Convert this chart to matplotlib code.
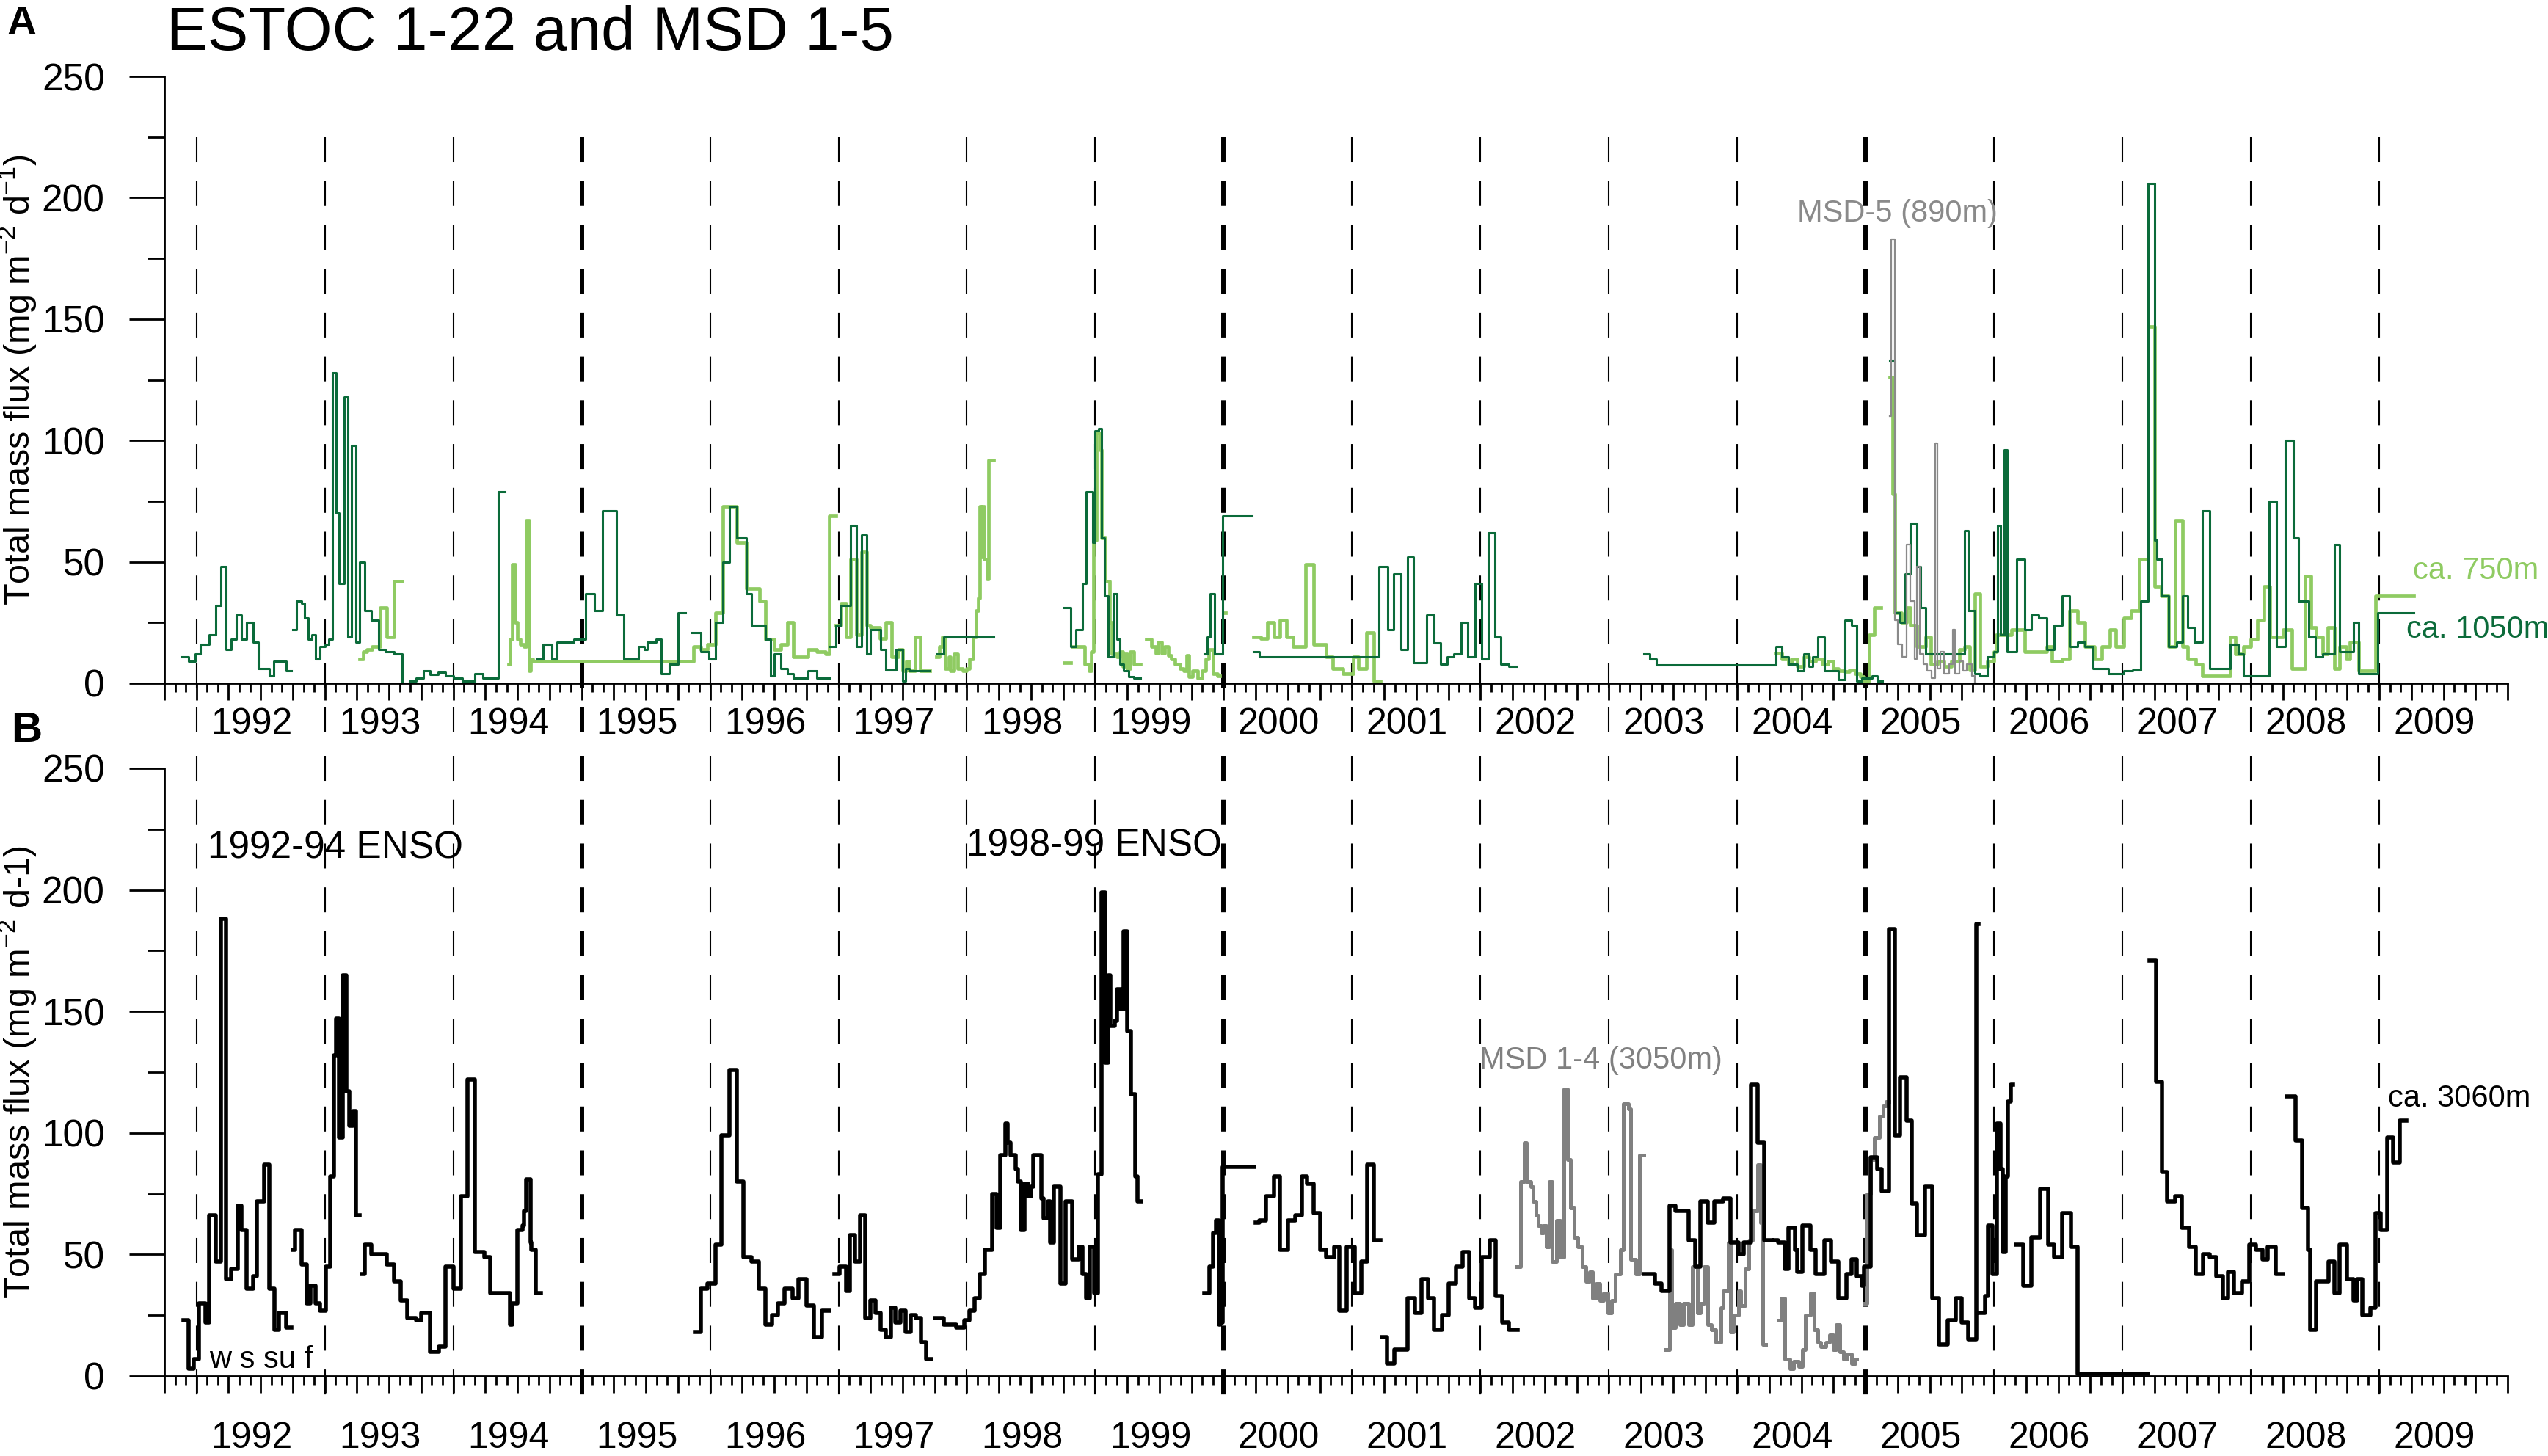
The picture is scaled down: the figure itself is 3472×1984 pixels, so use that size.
import numpy as np
import matplotlib
matplotlib.use("Agg")
import matplotlib.pyplot as plt
from matplotlib.ticker import FixedLocator

plt.rcParams['font.family'] = ['Liberation Sans', 'DejaVu Sans']
plt.rcParams['mathtext.fontset'] = 'custom'
plt.rcParams['mathtext.rm'] = 'Liberation Sans'
plt.rcParams['mathtext.it'] = 'Liberation Sans:italic'
plt.rcParams['mathtext.bf'] = 'Liberation Sans:bold'
plt.rcParams['lines.scale_dashes'] = False

# ---------------- data (decimal year edges, flux values) ----------------
YEARS = list(range(1992, 2010))
THICK_YEARS = [1995, 2000, 2005]

# Panel A: ca. 1050 m (dark green)
A_1050_S1_X = [1991.88, 1991.94, 1991.99, 1992.03, 1992.10, 1992.15, 1992.19, 1992.23, 1992.27, 1992.31, 1992.35, 1992.39, 1992.44, 1992.48, 1992.53, 1992.57, 1992.60, 1992.70, 1992.74]
A_1050_S1_Y = [11, 9, 12, 16, 20, 32, 48, 14, 18, 28, 18, 25, 17, 6, 6, 3, 9, 5]
A_1050_S2_X = [1992.75, 1992.78, 1992.82, 1992.84, 1992.87, 1992.90, 1992.93, 1992.96, 1993.00, 1993.03, 1993.06, 1993.09, 1993.11, 1993.15, 1993.18, 1993.21, 1993.24, 1993.27, 1993.31, 1993.36, 1993.42, 1993.47, 1993.54, 1993.60, 1993.66, 1993.71, 1993.77, 1993.82, 1993.88, 1993.94, 1994.00, 1994.07, 1994.17, 1994.23, 1994.35, 1994.40]
A_1050_S2_Y = [22, 34, 33, 27, 18, 20, 10, 15, 16, 18, 128, 70, 41, 118, 19, 98, 17, 50, 30, 26, 14, 13, 12, 0, 1, 2, 5, 3.5, 4.5, 3, 2, 1, 4, 2, 79]
A_1050_S3_X = [1994.65, 1994.70, 1994.77, 1994.81, 1994.94, 1995.03, 1995.10, 1995.16, 1995.27, 1995.33, 1995.44, 1995.49, 1995.51, 1995.58, 1995.62, 1995.68, 1995.75, 1995.81]
A_1050_S3_Y = [10, 16, 10, 17, 18, 37, 30, 71, 28, 10, 15, 14, 17, 18, 4, 8, 29]
A_1050_S4_X = [1995.86, 1995.93, 1995.99, 1996.04, 1996.10, 1996.15, 1996.21, 1996.28, 1996.32, 1996.43, 1996.47, 1996.50, 1996.55, 1996.60, 1996.65, 1996.76, 1996.83, 1996.93]
A_1050_S4_Y = [21, 13, 10, 25, 50, 73, 60, 37, 24, 18, 3, 12, 6, 4, 2, 5, 2]
A_1050_S5_X = [1996.93, 1996.98, 1997.02, 1997.095, 1997.137, 1997.177, 1997.219, 1997.25, 1997.33, 1997.37, 1997.45, 1997.50, 1997.52, 1997.55, 1997.71]
A_1050_S5_Y = [15, 24, 32, 65, 15, 61, 12, 22, 14, 5.5, 14, 1, 6, 5]
A_1050_S6_X = [1997.77, 1997.82, 1998.21]
A_1050_S6_Y = [12, 19]
A_1050_S7_X = [1998.76, 1998.81, 1998.85, 1998.90, 1998.93, 1998.98, 1999.00, 1999.025, 1999.05, 1999.07, 1999.10, 1999.14, 1999.17, 1999.19, 1999.22, 1999.26, 1999.30, 1999.35]
A_1050_S7_Y = [31, 15, 22, 41, 79, 58, 104, 105, 60, 36, 11, 37, 18, 8, 5, 2.6, 2]
A_1050_S8_X = [1999.85, 1999.87, 1999.895, 1999.93, 1999.965, 1999.99, 2000.22]
A_1050_S8_Y = [12, 19, 37, 12, 12, 69]
A_1050_S9_X = [2000.23, 2000.28, 2001.21, 2001.28, 2001.325, 2001.38, 2001.43, 2001.48, 2001.58, 2001.64, 2001.69, 2001.74, 2001.79, 2001.85, 2001.90, 2001.96, 2002.01, 2002.06, 2002.11, 2002.16, 2002.22, 2002.28]
A_1050_S9_Y = [13, 11, 48, 22, 45, 14, 52, 8.5, 28, 16.5, 8, 11, 12, 25, 11, 41, 10, 62, 19, 8, 7]
A_1050_S10_X = [2003.27, 2003.32, 2003.37, 2004.30, 2004.35, 2004.40, 2004.47, 2004.52, 2004.56, 2004.59, 2004.63, 2004.68, 2004.79, 2004.84, 2004.89, 2004.93, 2004.97, 2005.05, 2005.09, 2005.13]
A_1050_S10_Y = [12, 10, 7.6, 15, 11, 8, 5, 12, 7, 11, 19, 5, 1.6, 26, 24, 1, 2, 3, 1]
A_1050_S11_X = [2005.19, 2005.23, 2005.27, 2005.31, 2005.35, 2005.40, 2005.43, 2005.47, 2005.77, 2005.80, 2005.85, 2005.89, 2005.95, 2006.00, 2006.03, 2006.05, 2006.08, 2006.10, 2006.175, 2006.24, 2006.29, 2006.35, 2006.41, 2006.47, 2006.53, 2006.59, 2006.65, 2006.71, 2006.77, 2006.89, 2007.01, 2007.08, 2007.14, 2007.20, 2007.25, 2007.27, 2007.31, 2007.36, 2007.42, 2007.47, 2007.51, 2007.56, 2007.62, 2007.68, 2007.84, 2007.90, 2007.94, 2008.14, 2008.20, 2008.27, 2008.33, 2008.37, 2008.45, 2008.50, 2008.56, 2008.65, 2008.69, 2008.80, 2008.84, 2008.99, 2009.27]
A_1050_S11_Y = [133, 29, 25, 45, 66, 48, 31, 12, 63, 30, 4, 3, 11, 13, 65, 20, 96, 13, 51, 22, 28, 27, 14, 24, 36, 15, 17, 15, 6, 4, 5, 5.5, 34, 206, 59, 51, 36, 15, 17, 36, 23, 17, 71, 6, 16, 12, 3, 75, 15, 100, 60, 34, 19, 11, 12, 57, 13, 25, 4, 29]

# Panel A: ca. 750 m (light green)
A_750_S1_X = [1993.27, 1993.30, 1993.33, 1993.37, 1993.43, 1993.48, 1993.54, 1993.60]
A_750_S1_Y = [10, 13, 14, 15, 31, 19, 42]
A_750_S2_X = [1994.43, 1994.44, 1994.46, 1994.48, 1994.50, 1994.52, 1994.55, 1994.57, 1994.59, 1994.60, 1994.62, 1995.87, 1995.93, 1995.98, 1996.04, 1996.10, 1996.21, 1996.28, 1996.385, 1996.43, 1996.50, 1996.55, 1996.60, 1996.65, 1996.76, 1996.83, 1996.90, 1996.93, 1996.98]
A_750_S2_Y = [8, 18, 49, 25, 18, 16, 15, 67, 5, 10, 9, 15, 14, 16, 29, 73, 58, 39, 34, 18, 14, 16, 25, 11, 14, 13, 12, 69]
A_750_S3_X = [1996.98, 1997.02, 1997.06, 1997.095, 1997.137, 1997.177, 1997.219, 1997.25, 1997.32, 1997.37, 1997.415, 1997.465, 1997.50, 1997.53, 1997.55, 1997.595, 1997.635, 1997.71]
A_750_S3_Y = [24, 33, 19, 51, 20, 54, 24, 23, 18.5, 25, 11, 14, 5, 9, 5, 19, 5]
A_750_S4_X = [1997.76, 1997.785, 1997.81, 1997.83, 1997.86, 1997.87, 1997.90, 1997.93, 1997.97, 1998.00, 1998.02, 1998.05, 1998.07, 1998.09, 1998.10, 1998.11, 1998.115, 1998.135, 1998.16, 1998.17, 1998.21]
A_750_S4_Y = [11, 15, 19, 6, 11, 5, 12, 6, 5, 6, 10, 19, 30, 35, 73, 52, 73, 51, 43, 92]
A_750_S5_X = [1998.76, 1998.81]
A_750_S5_Y = [8.5]
A_750_S6_X = [1998.82, 1998.92, 1998.95, 1998.97, 1998.985, 1999.01, 1999.035, 1999.05, 1999.08, 1999.11, 1999.13, 1999.17, 1999.19, 1999.215, 1999.23, 1999.25, 1999.27, 1999.30, 1999.35]
A_750_S6_Y = [15, 8, 5, 13, 59, 103, 96, 60, 42, 25, 12, 11, 13, 7, 12, 6, 13, 8]
A_750_S7_X = [1999.40, 1999.44, 1999.47, 1999.49, 1999.52, 1999.54, 1999.57, 1999.59, 1999.62, 1999.66, 1999.69, 1999.71, 1999.73, 1999.76, 1999.80, 1999.83, 1999.86, 1999.885, 1999.92, 1999.95, 1999.97]
A_750_S7_Y = [18, 15, 12.5, 17, 12.5, 15, 11.6, 10, 8, 6, 5, 11.6, 2.6, 5, 2, 5, 10, 14, 4, 3]
A_750_S8_X = [1999.995, 2000.015]
A_750_S8_Y = [29]
A_750_S9_X = [2000.23, 2000.29, 2000.34, 2000.39, 2000.44, 2000.49, 2000.54, 2000.64, 2000.70, 2000.80, 2000.85, 2000.93, 2001.01, 2001.05, 2001.11, 2001.17, 2001.22]
A_750_S9_Y = [19, 18.5, 25, 19, 26, 19, 15, 49, 16, 11, 6, 4, 11, 6, 21, 1]
A_750_S10_X = [2004.30, 2004.35, 2004.40, 2004.43, 2004.47, 2004.52, 2004.56, 2004.61, 2004.66, 2004.71, 2004.75, 2004.79, 2004.84, 2004.875, 2004.92, 2004.96, 2004.99, 2005.03, 2005.07, 2005.12]
A_750_S10_Y = [12.5, 10, 8, 10, 7, 11, 9, 10, 8, 9, 6, 5, 4.7, 5.5, 4, 2.6, 1, 20, 31]
A_750_S11_X = [2005.19, 2005.21, 2005.23, 2005.28, 2005.32, 2005.35, 2005.40, 2005.47, 2005.51, 2005.56, 2005.61, 2005.67, 2005.73, 2005.77, 2005.81, 2005.85, 2005.89, 2005.95, 2006.00, 2006.015, 2006.135, 2006.24, 2006.41, 2006.45, 2006.53, 2006.59, 2006.65, 2006.71, 2006.78, 2006.84, 2006.90, 2006.95, 2007.01, 2007.07, 2007.13, 2007.20, 2007.25, 2007.30, 2007.36, 2007.41, 2007.47, 2007.51, 2007.57, 2007.62, 2007.84, 2007.88, 2007.94, 2008.00, 2008.05, 2008.10, 2008.15, 2008.25, 2008.32, 2008.42, 2008.47, 2008.51, 2008.56, 2008.60, 2008.65, 2008.69, 2008.74, 2008.77, 2008.84, 2008.97, 2009.27]
A_750_S11_Y = [126, 78, 29, 25, 31, 24, 15, 19, 8, 9, 7, 9, 14, 15, 5.5, 37, 7, 9, 13, 20, 22, 13, 15, 9, 10, 30, 25, 15, 10, 15, 22, 15, 27, 30, 51, 147, 40, 36, 15, 67, 15, 10, 8, 3, 19, 12, 15, 18, 26, 40, 19, 22, 6, 44, 23, 19, 12, 23, 6, 15, 10, 17, 5, 36]

# Panel A: MSD-5 (890 m, grey)
A_MSD5_X = [2005.19, 2005.20, 2005.226, 2005.25, 2005.285, 2005.32, 2005.35, 2005.38, 2005.40, 2005.42, 2005.45, 2005.48, 2005.515, 2005.54, 2005.557, 2005.58, 2005.61, 2005.65, 2005.68, 2005.695, 2005.73, 2005.76, 2005.79, 2005.83, 2005.85, 2005.86]
A_MSD5_Y = [110, 183, 26, 16, 11, 57, 34, 10, 48, 12, 8, 5, 2, 99, 6, 13, 4, 8, 22, 4, 9, 5, 8, 3, 0]

# Panel B: ca. 3060 m (black)
B_3060_S1_X = [1991.90, 1991.94, 1991.98, 1992.02, 1992.07, 1992.10, 1992.15, 1992.19, 1992.23, 1992.27, 1992.32, 1992.35, 1992.39, 1992.44, 1992.47, 1992.53, 1992.57, 1992.61, 1992.64, 1992.70, 1992.74]
B_3060_S1_Y = [23, 3, 7, 30, 22, 66, 47, 188, 40, 44, 70, 60, 36, 41, 72, 87, 36, 19, 26, 20]
B_3060_S2_X = [1992.75, 1992.77, 1992.82, 1992.86, 1992.89, 1992.93, 1992.96, 1993.01, 1993.04, 1993.07, 1993.09, 1993.11, 1993.14, 1993.17, 1993.19, 1993.22, 1993.24, 1993.27]
B_3060_S2_Y = [52, 60, 46, 30, 37, 30, 27, 45, 82, 132, 147, 98, 165, 117, 103, 109, 66]
B_3060_S3_X = [1993.285, 1993.31, 1993.36, 1993.48, 1993.54, 1993.59, 1993.64, 1993.71, 1993.75, 1993.82, 1993.89, 1993.94, 1994.00, 1994.06, 1994.11, 1994.17, 1994.24, 1994.29, 1994.44, 1994.46, 1994.50, 1994.54, 1994.55, 1994.57, 1994.60, 1994.61, 1994.64, 1994.68]
B_3060_S3_Y = [42, 54, 50, 46, 39, 31, 24, 23, 26, 10, 12, 45, 36, 74, 122, 51, 49, 34, 21, 30, 60, 62, 68, 81, 55, 52, 34]
B_3060_S4_X = [1995.88, 1995.93, 1995.98, 1996.04, 1996.09, 1996.15, 1996.21, 1996.26, 1996.32, 1996.38, 1996.43, 1996.48, 1996.53, 1996.58, 1996.64, 1996.69, 1996.75, 1996.81, 1996.87, 1996.93]
B_3060_S4_Y = [18, 36, 38, 54, 99, 126, 80, 49, 47, 36, 21, 25, 30, 36, 32, 40, 29, 16, 27]
B_3060_S5_X = [1996.97, 1997.01, 1997.06, 1997.09, 1997.13, 1997.17, 1997.21, 1997.25, 1997.29, 1997.33, 1997.37, 1997.41, 1997.44, 1997.48, 1997.52, 1997.56, 1997.60, 1997.64, 1997.68, 1997.72]
B_3060_S5_Y = [42, 45, 35, 58, 47, 66, 24, 31, 26, 19, 16, 28, 22, 27, 18, 25, 24, 14, 7]
B_3060_S6_X = [1997.75, 1997.82, 1997.92, 1997.98, 1998.02, 1998.06, 1998.10, 1998.14, 1998.20, 1998.23, 1998.26, 1998.30, 1998.32, 1998.34, 1998.38, 1998.40, 1998.42, 1998.45, 1998.48, 1998.50, 1998.52, 1998.58, 1998.60, 1998.63, 1998.65, 1998.68, 1998.73, 1998.77, 1998.82, 1998.87, 1998.90, 1998.93, 1998.96, 1998.99, 1999.02, 1999.05, 1999.08, 1999.10, 1999.12, 1999.15, 1999.17, 1999.20, 1999.22, 1999.25, 1999.28, 1999.31, 1999.33, 1999.36]
B_3060_S6_Y = [24, 21, 20, 23, 27, 32, 42, 52, 75, 61, 91, 104, 96, 91, 85, 80, 60, 79, 74, 78, 91, 73, 65, 72, 55, 78, 38, 72, 48, 53, 42, 32, 53, 34, 83, 199, 129, 165, 144, 146, 159, 151, 183, 142, 116, 82, 72]
B_3060_S7_X = [1999.85, 1999.89, 1999.92, 1999.94, 1999.965, 1999.975, 1999.982, 1999.99, 2000.24]
B_3060_S7_Y = [34, 45, 59, 64, 21, 60, 22, 86]
B_3060_S8_X = [2000.25, 2000.28, 2000.33, 2000.39, 2000.44, 2000.50, 2000.56, 2000.61, 2000.65, 2000.70, 2000.75, 2000.80, 2000.86, 2000.90, 2000.96, 2001.02, 2001.07, 2001.12, 2001.17, 2001.22]
B_3060_S8_Y = [63, 64, 74, 82, 52, 64, 66, 82, 79, 67, 52, 49, 53, 27, 53, 34, 47, 87, 56]
B_3060_S9_X = [2001.23, 2001.27, 2001.33, 2001.43, 2001.49, 2001.54, 2001.59, 2001.64, 2001.70, 2001.75, 2001.81, 2001.86, 2001.91, 2001.96, 2002.01, 2002.07, 2002.12, 2002.17, 2002.22, 2002.29]
B_3060_S9_Y = [16, 5, 11, 32, 26, 40, 32, 19, 25, 38, 45, 51, 32, 28, 49, 56, 33, 22, 19]
B_3060_S10_X = [2003.27, 2003.36, 2003.41, 2003.47, 2003.52, 2003.62, 2003.67, 2003.71, 2003.77, 2003.82, 2003.89, 2003.95, 2004.01, 2004.05, 2004.11, 2004.16, 2004.21, 2004.27]
B_3060_S10_Y = [42, 38, 35, 70, 68, 56, 45, 72, 63, 72, 73, 55, 50, 55, 120, 96, 56]
B_3060_S11_X = [2004.29, 2004.32, 2004.37, 2004.40, 2004.45, 2004.47, 2004.51, 2004.57, 2004.61, 2004.68, 2004.73, 2004.79, 2004.85, 2004.89, 2004.93, 2004.97, 2004.99, 2005.04, 2005.09, 2005.125, 2005.18, 2005.23, 2005.27, 2005.32, 2005.36, 2005.40, 2005.46, 2005.52, 2005.57, 2005.64, 2005.70, 2005.75, 2005.80, 2005.86, 2005.88]
B_3060_S11_Y = [56, 55, 44, 61, 52, 43, 62, 52, 42, 56, 47, 32, 42, 48, 41, 37, 45, 90, 85, 76, 184, 99, 123, 105, 71, 58, 78, 32, 13, 23, 32, 22, 15, 186]
B_3060_S12_X = [2005.88, 2005.93, 2005.955, 2005.99, 2006.02, 2006.05, 2006.07, 2006.09, 2006.11, 2006.13, 2006.15]
B_3060_S12_Y = [26, 33, 62, 42, 104, 85, 51, 82, 113, 120]
B_3060_S13_X = [2006.17, 2006.23, 2006.29, 2006.36, 2006.42, 2006.47, 2006.53, 2006.60, 2006.65, 2007.20]
B_3060_S13_Y = [54, 37, 57, 77, 54, 49, 67, 53, 1]
B_3060_S14_X = [2007.21, 2007.265, 2007.31, 2007.35, 2007.41, 2007.46, 2007.52, 2007.57, 2007.63, 2007.68, 2007.73, 2007.78, 2007.82, 2007.87, 2007.93, 2007.99, 2008.04, 2008.09, 2008.13, 2008.195, 2008.25]
B_3060_S14_Y = [171, 121, 84, 72, 74, 61, 53, 42, 50, 49, 41, 32, 43, 34, 39, 54, 52, 48, 53, 42]
B_3060_S15_X = [2008.28, 2008.35, 2008.40, 2008.445, 2008.46, 2008.51, 2008.56, 2008.605, 2008.65, 2008.69, 2008.75, 2008.80, 2008.83, 2008.87, 2008.93, 2008.97, 2009.01, 2009.06, 2009.11, 2009.16, 2009.21]
B_3060_S15_Y = [115, 97, 69, 52, 19, 39, 39, 47, 34, 54, 40, 31, 40, 25, 28, 67, 60, 98, 88, 105]

# Panel B: MSD 1-4 (3050 m, grey)
B_MSD_S1_X = [2002.28, 2002.315, 2002.34, 2002.36, 2002.39, 2002.41, 2002.43, 2002.45, 2002.47, 2002.49, 2002.51, 2002.535, 2002.56, 2002.59, 2002.62, 2002.65, 2002.68, 2002.70, 2002.73, 2002.76, 2002.79, 2002.82, 2002.85, 2002.87, 2002.90, 2002.93, 2002.96, 2002.99, 2003.02, 2003.05, 2003.09, 2003.11, 2003.15, 2003.17, 2003.21, 2003.24, 2003.27]
B_MSD_S1_Y = [45, 80, 96, 80, 78, 72, 66, 62, 59, 62, 53, 80, 47, 64, 49, 118, 89, 69, 57, 53, 45, 39, 43, 32, 38, 31, 34, 26, 31, 42, 52, 112, 110, 48, 42, 91]
B_MSD_S2_X = [2003.44, 2003.47, 2003.49, 2003.52, 2003.55, 2003.58, 2003.62, 2003.65, 2003.69, 2003.71, 2003.74, 2003.77, 2003.80, 2003.83, 2003.87, 2003.89, 2003.93, 2003.95, 2003.97, 2004.01, 2004.03, 2004.06, 2004.09, 2004.12, 2004.16, 2004.18, 2004.20, 2004.22]
B_MSD_S2_Y = [11, 52, 20, 30, 21, 30, 21, 45, 26, 30, 45, 21, 19, 14, 28, 35, 55, 18, 25, 35, 29, 44, 56, 68, 87, 63, 13]
B_MSD_S3_X = [2004.32, 2004.34, 2004.37, 2004.41, 2004.44, 2004.48, 2004.51, 2004.53, 2004.57, 2004.60, 2004.63, 2004.65, 2004.69, 2004.72, 2004.75, 2004.77, 2004.80, 2004.83, 2004.855, 2004.89, 2004.92, 2004.93]
B_MSD_S3_Y = [23, 32, 7, 3, 6, 4, 11, 25, 34, 19, 14, 12, 14, 17, 11, 21, 10, 7, 9, 5, 7]
B_MSD_S4_X = [2004.99, 2005.01, 2005.04, 2005.07, 2005.11, 2005.135, 2005.16, 2005.18]
B_MSD_S4_Y = [30, 75, 89, 98, 107, 111, 113]

A_1050 = [(A_1050_S1_X, A_1050_S1_Y), (A_1050_S2_X, A_1050_S2_Y), (A_1050_S3_X, A_1050_S3_Y),
          (A_1050_S4_X, A_1050_S4_Y), (A_1050_S5_X, A_1050_S5_Y), (A_1050_S6_X, A_1050_S6_Y),
          (A_1050_S7_X, A_1050_S7_Y), (A_1050_S8_X, A_1050_S8_Y), (A_1050_S9_X, A_1050_S9_Y),
          (A_1050_S10_X, A_1050_S10_Y), (A_1050_S11_X, A_1050_S11_Y)]
A_750 = [(A_750_S1_X, A_750_S1_Y), (A_750_S2_X, A_750_S2_Y), (A_750_S3_X, A_750_S3_Y),
         (A_750_S4_X, A_750_S4_Y), (A_750_S5_X, A_750_S5_Y), (A_750_S6_X, A_750_S6_Y),
         (A_750_S7_X, A_750_S7_Y), (A_750_S8_X, A_750_S8_Y), (A_750_S9_X, A_750_S9_Y),
         (A_750_S10_X, A_750_S10_Y), (A_750_S11_X, A_750_S11_Y)]
A_MSD5 = [(A_MSD5_X, A_MSD5_Y)]
B_3060 = [(B_3060_S1_X, B_3060_S1_Y), (B_3060_S2_X, B_3060_S2_Y), (B_3060_S3_X, B_3060_S3_Y),
          (B_3060_S4_X, B_3060_S4_Y), (B_3060_S5_X, B_3060_S5_Y), (B_3060_S6_X, B_3060_S6_Y),
          (B_3060_S7_X, B_3060_S7_Y), (B_3060_S8_X, B_3060_S8_Y), (B_3060_S9_X, B_3060_S9_Y),
          (B_3060_S10_X, B_3060_S10_Y), (B_3060_S11_X, B_3060_S11_Y), (B_3060_S12_X, B_3060_S12_Y),
          (B_3060_S13_X, B_3060_S13_Y), (B_3060_S14_X, B_3060_S14_Y), (B_3060_S15_X, B_3060_S15_Y)]
B_MSD = [(B_MSD_S1_X, B_MSD_S1_Y), (B_MSD_S2_X, B_MSD_S2_Y), (B_MSD_S3_X, B_MSD_S3_Y),
         (B_MSD_S4_X, B_MSD_S4_Y)]

DARK_GREEN = '#0b6b3a'
LIGHT_GREEN = '#8fcb62'
GREY5 = '#8a8a8a'
GREY14 = '#808080'


def build(segs):
    xs, ys = [], []
    for edges, vals in segs:
        n = min(len(edges) - 1, len(vals))
        e = list(edges[:n + 1])
        v = list(vals[:n])
        xs += e + [e[-1]]
        ys += v + [v[-1], np.nan]
    return np.array(xs, float), np.array(ys, float)


fig = plt.figure(figsize=(34.73, 19.84), dpi=100)
L, W = 224 / 3473, (3417 - 224) / 3473
axA = fig.add_axes([L, 1 - 931 / 1984, W, (931 - 104) / 1984])
axB = fig.add_axes([L, 1 - 1875 / 1984, W, (1875 - 1047) / 1984])

for ax, (ytop, ybot, ylab) in zip((axA, axB), ((225, -22, -21), (255, -10, -29.5))):
    ax.set_xlim(1991.75, 2010.0)
    ax.set_ylim(0, 250)
    for s in ('top', 'right'):
        ax.spines[s].set_visible(False)
    for s in ('left', 'bottom'):
        ax.spines[s].set_linewidth(2.0)
    ax.xaxis.set_major_locator(FixedLocator(np.arange(1991.75, 2010.001, 0.25)))
    ax.xaxis.set_minor_locator(FixedLocator(np.arange(1991.75, 2010.001, 1 / 12)))
    ax.yaxis.set_major_locator(FixedLocator(np.arange(0, 251, 50)))
    ax.yaxis.set_minor_locator(FixedLocator(np.arange(25, 250, 50)))
    ax.tick_params(axis='x', which='major', length=16.5, width=2.0, labelbottom=False)
    ax.tick_params(axis='x', which='minor', length=8.6, width=2.0)
    ax.tick_params(axis='y', which='major', length=34.5, width=2.0, labelsize=37, pad=24)
    ax.tick_params(axis='y', which='minor', length=16.5, width=2.0)
    for yr in YEARS:
        thick = yr in THICK_YEARS
        ax.plot([yr, yr], [ytop, ybot], color='black', lw=4.3 if thick else 1.5,
                ls=(0, (24.5, 18.5)), clip_on=False, zorder=1)
        ax.text(yr + 0.43, ylab, str(yr), ha='center', va='baseline', fontsize=36,
                clip_on=False)

x, y = build(A_1050)
axA.plot(x, y, drawstyle='steps-post', color=DARK_GREEN, lw=2.2, zorder=3)
x, y = build(A_750)
axA.plot(x, y, drawstyle='steps-post', color=LIGHT_GREEN, lw=3.4, zorder=2)
x, y = build(A_MSD5)
axA.plot(x, y, drawstyle='steps-post', color=GREY5, lw=1.6, zorder=4)

x, y = build(B_MSD)
axB.plot(x, y, drawstyle='steps-post', color=GREY14, lw=3.6, zorder=2)
x, y = build(B_3060)
axB.plot(x, y, drawstyle='steps-post', color='black', lw=4.0, zorder=3)

axA.set_ylabel('Total mass flux (mg m$^{-2}$ d$^{-1}$)', fontsize=35)
axB.set_ylabel('Total mass flux (mg m$^{-2}$ d-1)', fontsize=35)
for ax in (axA, axB):
    ax.yaxis.set_label_coords(-0.054, 0.5)

axA.text(2004.47, 190, 'MSD-5 (890m)', color=GREY5, fontsize=30, va='baseline')
axA.text(2009.26, 42.8, 'ca. 750m', color=LIGHT_GREEN, fontsize=30, va='baseline', clip_on=False)
axA.text(2009.21, 18.7, 'ca. 1050m', color=DARK_GREEN, fontsize=30, va='baseline', clip_on=False)

axB.text(1992.09, 213, '1992-94 ENSO', fontsize=37, va='baseline')
axB.text(1998.0, 214, '1998-99 ENSO', fontsize=37, va='baseline')
axB.text(2001.99, 126.5, 'MSD 1-4 (3050m)', color=GREY14, fontsize=30, va='baseline')
axB.text(2009.07, 110.8, 'ca. 3060m', fontsize=30, va='baseline', clip_on=False)
axB.text(1992.10, 3.3, 'w s su f', fontsize=30, va='baseline')

fig.text(227 / 3473, 1 - 68 / 1984, 'ESTOC 1-22 and MSD 1-5', fontsize=60, va='baseline')
fig.text(10 / 3473, 1 - 47 / 1984, 'A', fontsize=40, fontweight='bold', va='baseline')
fig.text(15 / 3473, 1 - 1011 / 1984, 'B', fontsize=42, fontweight='bold', va='baseline')

fig.savefig('out.png', dpi=100)
